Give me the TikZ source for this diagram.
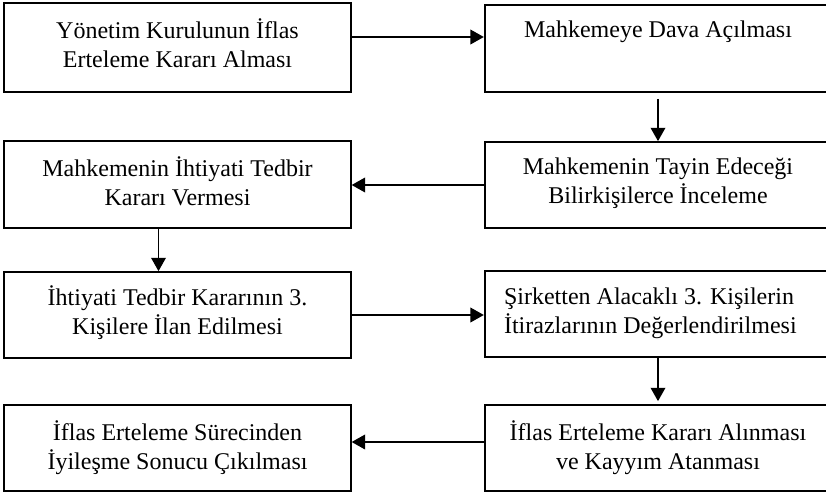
\documentclass[tikz,border=0pt]{standalone}
\usepackage{fontspec}
\setmainfont{Liberation Serif}
\usetikzlibrary{arrows.meta,calc}

\tikzset{
  kutu/.style={draw, line width=1.3pt, minimum width=260pt, minimum height=64.5pt, inner sep=0pt},
  yazi/.style={anchor=north, inner sep=0pt, align=center, font=\fontsize{18pt}{21.8pt}\selectfont},
  ok/.style={-{Triangle[length=10pt,width=11pt]}, line width=1pt}
}

\begin{document}
\begin{tikzpicture}[x=0.75pt,y=0.75pt,yscale=-1,xscale=1]
\useasboundingbox (0,0) rectangle (826,493);

%Shape: Rectangle [left column]
\node[kutu, minimum height=66.75pt] (b1) at (177.5,47.5) {};
\node[kutu, minimum height=65.25pt] (b3) at (177.5,184.5) {};
\node[kutu] (b5) at (177.5,315) {};
\node[kutu] (b7) at (177.5,448) {};
%Shape: Rectangle [right column]
\node[kutu, minimum height=65.25pt] (b2) at (658,48.5) {};
\node[kutu] (b4) at (658,185) {};
\node[kutu] (b6) at (658,314) {};
\node[kutu] (b8) at (658,448) {};

% Text Node
\node[yazi] (t1) at ($(b1.north)+(0,16)$) {Yönetim Kurulunun İflas\\Erteleme Kararı Alması};
% Text Node
\node[yazi] (t2) at ($(b2.north)+(0,16)$) {Mahkemeye Dava Açılması};
% Text Node
\node[yazi] (t3) at ($(b3.north)+(0,16)$) {Mahkemenin İhtiyati Tedbir\\Kararı Vermesi};
% Text Node
\node[yazi] (t4) at ($(b4.north)+(0,16)$) {Mahkemenin Tayin Edeceği\\Bilirkişilerce İnceleme};
% Text Node
\node[yazi] (t5) at ($(b5.north)+(0,14)$) {İhtiyati Tedbir Kararının 3.\\Kişilere İlan Edilmesi};
% Text Node
\node[yazi, anchor=north west, align=left] (t6) at ($(b6.north west)+(20,17)$) {Şirketten Alacaklı 3. Kişilerin\\İtirazlarının Değerlendirilmesi};
% Text Node
\node[yazi] (t7) at ($(b7.north)+(0,16)$) {İflas Erteleme Sürecinden\\İyileşme Sonucu Çıkılması};
% Text Node
\node[yazi] (t8) at ($(b8.north)+(0,16)$) {İflas Erteleme Kararı Alınması\\ve Kayyım Atanması};

%Straight Lines [arrows]
\coordinate (a1) at ($(b1.east)+(0,-10.5)$);
\draw[ok] (a1) -- (a1 -| b2.west);
\draw[ok] ($(b2.south)+(0,6)$) -- (b4.north);
\draw[ok] (b4.west) -- (b4.west -| b3.east);
\coordinate (a4) at ($(b3.south)+(-19,0)$);
\draw[ok] (a4) -- (a4 |- b5.north);
\draw[ok] (b5.east) -- (b5.east -| b6.west);
\draw[ok] (b6.south) -- ($(b8.north)+(0,-3)$);
\coordinate (a7) at ($(b8.west)+(0,-6)$);
\draw[ok] (a7) -- (a7 -| b7.east);

\end{tikzpicture}
\end{document}
